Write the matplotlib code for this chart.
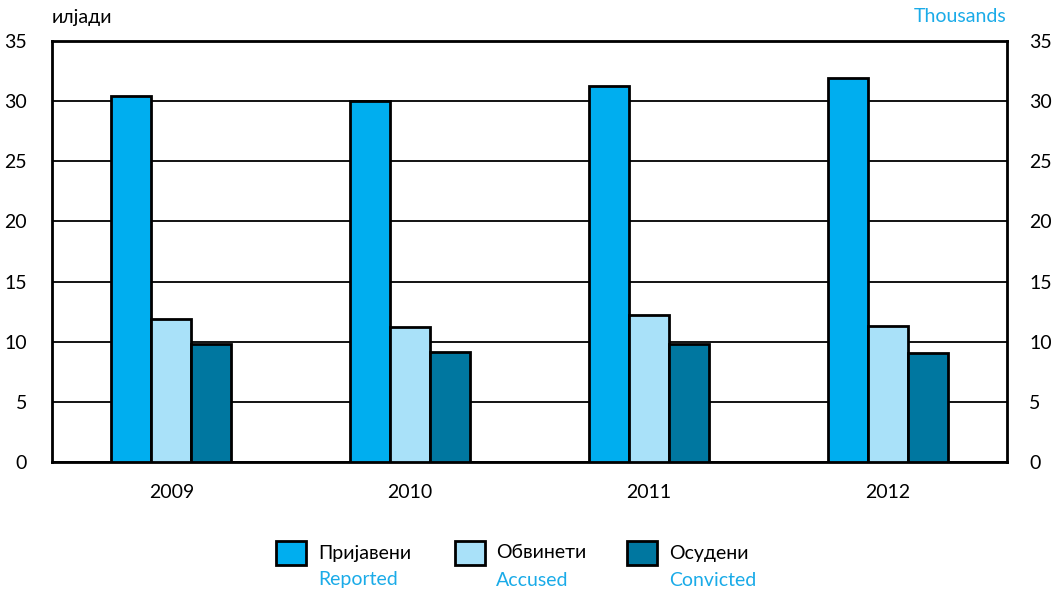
import numpy as np
import matplotlib.pyplot as plt
from matplotlib.patches import Rectangle

plt.rcParams['font.family'] = ['Lato', 'Open Sans', 'DejaVu Sans']

years = ['2009', '2010', '2011', '2012']
reported = [30.4, 30.0, 31.3, 31.9]
accused = [11.9, 11.2, 12.2, 11.3]
convicted = [9.8, 9.15, 9.8, 9.05]

names_mk = ['Пријавени', 'Обвинети', 'Осудени']
names_en = ['Reported', 'Accused', 'Convicted']
colors = ['#00AEEF', '#A9E1F9', '#0077A0']
blue_text = '#1AABE8'
fs = 14

fig = plt.figure(figsize=(10.58, 5.91), dpi=100)
ax = fig.add_axes([0.0491, 0.2183, 0.9027, 0.7123])

x = np.arange(len(years))
w = 0.1675
for i, vals in enumerate([reported, accused, convicted]):
    ax.bar(x + (i - 1) * w, vals, w, color=colors[i], edgecolor='black',
           linewidth=2, zorder=3)

ax.set_xlim(-0.5, len(years) - 0.5)
ax.set_ylim(0, 35)
ax.set_yticks(range(0, 36, 5))
ax.grid(axis='y', color='black', linewidth=1.3, zorder=0)
ax.set_xticks(x)
ax.set_xticklabels(years, fontsize=fs)
ax.tick_params(length=0, labelsize=fs)
ax.tick_params(axis='x', pad=16)
ax.tick_params(axis='y', pad=18)
for s in ax.spines.values():
    s.set_linewidth(2)

ax2 = ax.twinx()
ax2.set_ylim(0, 35)
ax2.set_yticks(range(0, 36, 5))
ax2.tick_params(length=0, labelsize=fs, pad=16)

fig.text(52 / 1058, 1 - 17 / 591, 'илјади', fontsize=fs, ha='left', va='center')
fig.text(1007 / 1058, 1 - 17 / 591, 'Thousands', fontsize=fs, ha='right',
         va='center', color=blue_text)

# legend drawn by hand: two lines per entry in two colours
patch_x = [276, 455, 627]
text_x = [318, 496, 669]
for i in range(3):
    fig.patches.append(Rectangle((patch_x[i] / 1058, 1 - 565 / 591), 30 / 1058, 24 / 591,
                                 transform=fig.transFigure, facecolor=colors[i],
                                 edgecolor='black', linewidth=2))
    fig.text(text_x[i] / 1058, 1 - 553 / 591, names_mk[i], fontsize=fs,
             ha='left', va='center')
    fig.text(text_x[i] / 1058, 1 - 580 / 591, names_en[i], fontsize=fs,
             ha='left', va='center', color=blue_text)

fig.savefig('out.png', dpi=100)
